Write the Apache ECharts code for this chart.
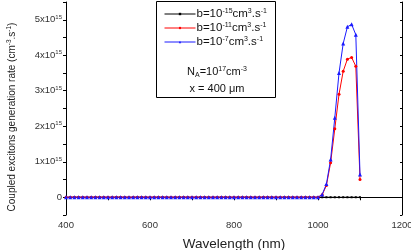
<!DOCTYPE html>
<html><head><meta charset="utf-8">
<script src="https://cdn.jsdelivr.net/npm/echarts@6/dist/echarts.min.js"></script>
<style>html,body{margin:0;padding:0;background:#fff}#c{width:411px;height:250px}</style>
</head><body><div id="c"></div>
<script>
// Wavelength (nm), 400..1100 step 10
const wavelengths = [];
for (let w = 400; w <= 1100; w += 10) wavelengths.push(w);
// Values (x10^15 cm^-3.s^-1) for 1010..1100; zero before
const tailB15 = [0,0,0,0,0,0,0,0,0,0];
const tailB11 = [0.07,0.33,0.97,1.93,2.90,3.55,3.89,3.94,3.69,0.50];
const tailB7  = [0.08,0.37,1.06,2.24,3.50,4.33,4.80,4.87,4.58,0.64];
const zerosBefore = wavelengths.filter(w => w <= 1000).map(() => 0);
const seriesB15 = zerosBefore.concat(tailB15);
const seriesB11 = zerosBefore.concat(tailB11);
const seriesB7  = zerosBefore.concat(tailB7);
const seriesNames = ['b15','b11','b7'];
const yTickLabels = [0,1,2,3,4,5];
const xTickLabels = [400,600,800,1000,1200];

const SC = 1e15;
const pair = arr => arr.map((v,i)=>[wavelengths[i], v*SC]);
const ff = 'Liberation Sans, Arial, sans-serif';
const legendText = {
  b15: '{a|b=10}{s|-15}{a|cm}{s|3}{a|.s}{s|-1}',
  b11: '{a|b=10}{s|-11}{a|cm}{s|3}{a|.s}{s|-1}',
  b7:  '{a|b=10}{s|-7}{a|cm}{s|3}{a|.s}{s|-1}'
};
const chart = echarts.init(document.getElementById('c'), null, {renderer:'canvas'});
const mk = (name, data, color, symbol, size) => ({
  name, type:'line', data: pair(data), color,
  symbol, symbolSize:size, showSymbol:true,
  lineStyle:{width:1, color}, itemStyle:{color},
  animation:false
});
chart.setOption({
  animation:false,
  grid:{left:66, right:9, top:2, bottom:35, outerBoundsMode:'none', containLabel:false},
  legend:{
    orient:'vertical', left:159, top:3, itemWidth:31, itemHeight:3, itemGap:2,
    data: seriesNames,
    lineStyle:{width:1},
    formatter: n => legendText[n],
    textStyle:{padding:[0,0,0,-4], rich:{a:{fontSize:11.5, lineHeight:12, fontFamily:ff, color:'#111'}, s:{fontSize:7, lineHeight:12, fontFamily:ff, color:'#111', verticalAlign:'top', padding:[0,0,3,0]}}}
  },
  xAxis:[{
    type:'value', min:400, max:1200, interval:100,
    axisLine:{lineStyle:{color:'#000', width:1}},
    axisTick:{show:true, inside:false, length:3, lineStyle:{color:'#000'}},
    splitLine:{show:false},
    axisLabel:{fontSize:9.5, fontFamily:ff, color:'#333', margin:5,
      formatter: v => xTickLabels.includes(v) ? String(v) : ''},
    name:'Wavelength (nm)', nameLocation:'middle', nameGap:22,
    nameTextStyle:{fontSize:13.5, fontFamily:ff, color:'#222'}
  },{
    type:'value', min:400, max:1200, interval:100, position:'top',
    axisLine:{lineStyle:{color:'#000'}}, axisTick:{inside:true, length:2, lineStyle:{color:'#000'}},
    axisLabel:{show:false}, splitLine:{show:false}
  }],
  yAxis:[{
    type:'value', min:-0.5*SC, max:5.5*SC, interval:0.5*SC,
    axisLine:{show:true, lineStyle:{color:'#000', width:1}},
    axisTick:{show:true, inside:false, length:3, lineStyle:{color:'#000'}},
    splitLine:{show:false},
    axisLabel:{fontFamily:ff, color:'#333', margin:4,
      formatter: v => {
        const k = Math.round(v/SC*2)/2;
        if (!yTickLabels.includes(k)) return '';
        return k===0 ? '{a|0}' : '{a|'+k+'x10}{s|15}';
      },
      rich:{a:{fontSize:9.5, fontFamily:ff, color:'#333'}, s:{fontSize:6, fontFamily:ff, color:'#333', verticalAlign:'top', padding:[0,0,5,0]}}
    }
  },{
    type:'value', min:-0.5*SC, max:5.5*SC, interval:0.5*SC, position:'right',
    axisLine:{show:true, lineStyle:{color:'#000'}}, axisTick:{show:true, inside:true, length:2, lineStyle:{color:'#000'}},
    axisLabel:{show:false}, splitLine:{show:false}
  }],
  series:[
    mk('b15', seriesB15, '#000000', 'rect', 2),
    mk('b11', seriesB11, '#ff0000', 'circle', 3),
    mk('b7',  seriesB7,  '#1a1aff', 'triangle', 4)
  ],
  graphic:[
    {type:'text', x:12, y:117, rotation:Math.PI/2, style:{
      text:'{a|Coupled excitons generation rate (cm}{s|-3}{a|.s}{s|-1}{a|)}', align:'center', verticalAlign:'middle',
      rich:{a:{fontSize:10, fontFamily:ff, fill:'#222'}, s:{fontSize:6.5, fontFamily:ff, fill:'#222', verticalAlign:'top', padding:[0,0,6,0]}}
    }},
    {type:'rect', shape:{x:156.5, y:1.5, width:119, height:96}, style:{fill:'none', stroke:'#000', lineWidth:1}, z:100},
    {type:'text', x:217, y:72, style:{
      text:'{a|N}{b|A}{a|=10}{s|17}{a|cm}{s|-3}', align:'center', verticalAlign:'middle',
      rich:{a:{fontSize:11, fontFamily:ff, fill:'#111'}, b:{fontSize:7, fontFamily:ff, fill:'#111', verticalAlign:'bottom', padding:[6,0,0,0]}, s:{fontSize:7, fontFamily:ff, fill:'#111', verticalAlign:'top', padding:[0,0,6,0]}}
    }, z:100},
    {type:'text', x:217, y:89, style:{text:'x = 400 \u03bcm', align:'center', verticalAlign:'middle', font:'11px '+ff, fill:'#111'}, z:100}
  ]
});
</script></body></html>
